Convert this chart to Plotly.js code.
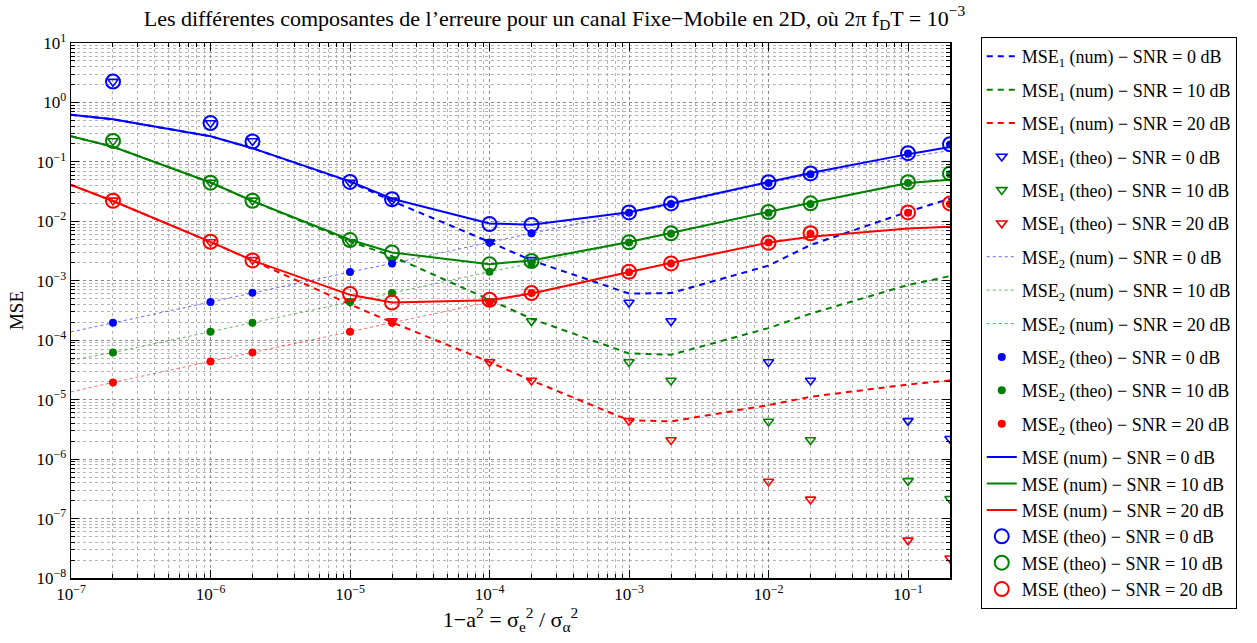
<!DOCTYPE html>
<html>
<head>
<meta charset="utf-8">
<script src="https://cdn.plot.ly/plotly-3.0.1.min.js"></script>
<style>html,body{margin:0;padding:0;background:#fff;}#chart{width:1257px;height:643px;}</style>
</head>
<body>
<div id="chart"></div>
<script>
// ---- data ----
var xNum  = [1e-7, 2e-7, 1e-6, 2e-6, 1e-5, 2e-5, 1e-4, 2e-4, 1e-3, 2e-3, 1e-2, 2e-2, 1e-1, 2e-1];
var xTheo = [2e-7, 1e-6, 2e-6, 1e-5, 2e-5, 1e-4, 2e-4, 1e-3, 2e-3, 1e-2, 2e-2, 1e-1, 2e-1];
var snrLabels = ['0', '10', '20'];

var mse1Num0  = [0.62, 0.52, 0.27, 0.17, 0.046, 0.022, 0.0045, 0.0022, 0.00061, 0.00062, 0.0018, 0.004, 0.0145, 0.024];
var mse1Num10 = [0.27, 0.18, 0.045, 0.022, 0.0046, 0.0026, 0.00048, 0.00023, 6.0e-5, 5.7e-5, 1.6e-4, 2.8e-4, 8.5e-4, 1.2e-3];
var mse1Num20 = [0.041, 0.022, 0.0045, 0.0022, 0.0004, 0.0002, 4.3e-5, 2.1e-5, 4.5e-6, 4.3e-6, 8.1e-6, 1.12e-5, 1.8e-5, 2.1e-5];

var mse1Theo0  = [2.24, 0.45, 0.225, 0.045, 0.0225, 0.0045, 0.00225, 0.00043, 0.00021, 4.3e-5, 2.1e-5, 4.4e-6, 2.2e-6];
var mse1Theo10 = [0.225, 0.045, 0.0225, 0.0045, 0.00225, 0.00045, 0.00021, 4.3e-5, 2.1e-5, 4.3e-6, 2.1e-6, 4.3e-7, 2.15e-7];
var mse1Theo20 = [0.0225, 0.0045, 0.00225, 0.00045, 0.00021, 4.3e-5, 2.1e-5, 4.4e-6, 2.1e-6, 4.2e-7, 2.1e-7, 4.3e-8, 2.15e-8];

var mse2Num0  = [1.38e-4, 1.96e-4, 4.4e-4, 6.3e-4, 1.4e-3, 1.96e-3, 4.4e-3, 6.3e-3, 0.0136, 0.019, 0.044, 0.061, 0.12, 0.155];
var mse2Num10 = [4.6e-5, 6.2e-5, 1.39e-4, 1.96e-4, 4.4e-4, 6.2e-4, 1.42e-3, 1.96e-3, 4.4e-3, 6.3e-3, 0.0143, 0.020, 0.043, 0.050];
var mse2Num20 = [1.35e-5, 1.95e-5, 4.4e-5, 6.2e-5, 1.39e-4, 1.96e-4, 4.4e-4, 6.0e-4, 1.39e-3, 1.96e-3, 4.4e-3, 5.5e-3, 0.0076, 0.0081];

var mse2Theo0  = [1.96e-4, 4.4e-4, 6.3e-4, 1.4e-3, 1.96e-3, 4.4e-3, 6.3e-3, 0.014, 0.0196, 0.044, 0.062, 0.139, 0.196];
var mse2Theo10 = [6.2e-5, 1.39e-4, 1.96e-4, 4.4e-4, 6.2e-4, 1.42e-3, 1.96e-3, 4.4e-3, 6.2e-3, 0.0139, 0.0196, 0.044, 0.062];
var mse2Theo20 = [1.95e-5, 4.4e-5, 6.2e-5, 1.39e-4, 1.96e-4, 4.4e-4, 6.2e-4, 1.39e-3, 1.96e-3, 4.4e-3, 6.2e-3, 0.0139, 0.0196];

var mseNum0  = [0.62, 0.52, 0.27, 0.17, 0.047, 0.024, 0.0092, 0.0088, 0.0142, 0.020, 0.046, 0.065, 0.135, 0.178];
var mseNum10 = [0.27, 0.18, 0.045, 0.022, 0.0049, 0.0030, 0.0019, 0.0022, 0.0045, 0.0064, 0.0145, 0.0205, 0.044, 0.050];
var mseNum20 = [0.041, 0.022, 0.0045, 0.0022, 0.00058, 0.00043, 0.00047, 0.00061, 0.0014, 0.0020, 0.0044, 0.0055, 0.0076, 0.0081];

var mseTheo0  = [2.24, 0.45, 0.22, 0.046, 0.0235, 0.009, 0.0087, 0.0141, 0.020, 0.0454, 0.064, 0.14, 0.198];
var mseTheo10 = [0.225, 0.0447, 0.0222, 0.00484, 0.0030, 0.00189, 0.00215, 0.00443, 0.0063, 0.01435, 0.0201, 0.0454, 0.064];
var mseTheo20 = [0.0222, 0.00454, 0.0022, 0.0006, 0.00043, 0.00048, 0.00062, 0.00142, 0.00196, 0.00436, 0.0063, 0.0141, 0.020];

var xTickVals = [1e-7, 1e-6, 1e-5, 1e-4, 1e-3, 1e-2, 1e-1];
var xTickText = ['10<sup>−7</sup>', '10<sup>−6</sup>', '10<sup>−5</sup>', '10<sup>−4</sup>', '10<sup>−3</sup>', '10<sup>−2</sup>', '10<sup>−1</sup>'];
var yTickVals = [1e-8, 1e-7, 1e-6, 1e-5, 1e-4, 1e-3, 1e-2, 1e-1, 1, 10];
var yTickText = ['10<sup>−8</sup>', '10<sup>−7</sup>', '10<sup>−6</sup>', '10<sup>−5</sup>', '10<sup>−4</sup>', '10<sup>−3</sup>', '10<sup>−2</sup>', '10<sup>−1</sup>', '10<sup>0</sup>', '10<sup>1</sup>'];

// ---- styling ----
var colors = ['#0000ff', '#008000', '#ff0000'];
var FONT = 'Liberation Serif, Times New Roman, serif';

function minorVals(lo, hi) {
  var v = [];
  for (var e = lo; e < hi; e++) {
    for (var m = 2; m <= 9; m++) v.push(m * Math.pow(10, e));
  }
  return v;
}

var traces = [];
var mse1Num = [mse1Num0, mse1Num10, mse1Num20];
var mse1Theo = [mse1Theo0, mse1Theo10, mse1Theo20];
var mse2Num = [mse2Num0, mse2Num10, mse2Num20];
var mse2Theo = [mse2Theo0, mse2Theo10, mse2Theo20];
var mseNum = [mseNum0, mseNum10, mseNum20];
var mseTheo = [mseTheo0, mseTheo10, mseTheo20];

for (var i = 0; i < 3; i++) traces.push({
  x: xNum, y: mse1Num[i], mode: 'lines', type: 'scatter', legendgroup: 'a' + i,
  line: {color: colors[i], width: 2, dash: '6px,5px'},
  name: 'MSE<sub>1</sub> (num) − SNR = ' + snrLabels[i] + ' dB'
});
for (var i = 0; i < 3; i++) traces.push({
  x: xTheo, y: mse1Theo[i], mode: 'markers', type: 'scatter', legendgroup: 'b' + i,
  marker: {color: colors[i], symbol: 'triangle-down-open', size: 9, line: {width: 1.6, color: colors[i]}},
  name: 'MSE<sub>1</sub> (theo) − SNR = ' + snrLabels[i] + ' dB'
});
for (var i = 0; i < 3; i++) traces.push({
  x: xNum, y: mse2Num[i], mode: 'lines', type: 'scatter', legendgroup: 'c' + i,
  line: {color: colors[i], width: 1, dash: 'dot'}, opacity: 0.6,
  name: 'MSE<sub>2</sub> (num) − SNR = ' + snrLabels[i] + ' dB'
});
for (var i = 0; i < 3; i++) traces.push({
  x: xTheo, y: mse2Theo[i], mode: 'markers', type: 'scatter', legendgroup: 'd' + i,
  marker: {color: colors[i], symbol: 'circle', size: 8},
  name: 'MSE<sub>2</sub> (theo) − SNR = ' + snrLabels[i] + ' dB'
});
for (var i = 0; i < 3; i++) traces.push({
  x: xNum, y: mseNum[i], mode: 'lines', type: 'scatter', legendgroup: 'total',
  line: {color: colors[i], width: 2},
  name: 'MSE (num) − SNR = ' + snrLabels[i] + ' dB'
});
for (var i = 0; i < 3; i++) traces.push({
  x: xTheo, y: mseTheo[i], mode: 'markers', type: 'scatter', legendgroup: 'total',
  marker: {color: colors[i], symbol: 'circle-open', size: 14, line: {width: 2, color: colors[i]}},
  name: 'MSE (theo) − SNR = ' + snrLabels[i] + ' dB'
});

var axisCommon = {
  type: 'log', showline: true, linecolor: '#000', linewidth: 1.5, mirror: 'allticks',
  ticks: 'inside', ticklen: 8, tickcolor: '#000', tickwidth: 1,
  tickmode: 'array', showgrid: true, gridcolor: '#8a8a8a', griddash: 'dot', gridwidth: 1,
  zeroline: false, tickfont: {family: FONT, size: 17, color: '#000'}
};

var layout = {
  width: 1257, height: 643,
  margin: {l: 71, r: 307, t: 43, b: 65},
  paper_bgcolor: '#fff', plot_bgcolor: '#fff',
  font: {family: FONT, color: '#000'},
  title: {
    text: 'Les différentes composantes de l’erreure pour un canal Fixe−Mobile en 2D, où 2π f<sub>D</sub>T = 10<sup>−3</sup>',
    font: {family: FONT, size: 22, color: '#000'},
    xref: 'paper', x: 0.55, xanchor: 'center', yref: 'container', y: 0.972, yanchor: 'middle'
  },
  xaxis: Object.assign({}, axisCommon, {
    range: [-7, Math.log10(0.2)],
    tickvals: xTickVals, ticktext: xTickText,
    minor: {tickmode: 'array', tickvals: minorVals(-7, 0), ticks: 'inside', ticklen: 4, tickcolor: '#000',
            showgrid: true, gridcolor: '#b4b4b4', griddash: 'dot', gridwidth: 1},
    title: {text: '1−a<sup>2</sup> = σ<sub>e</sub><sup>2</sup> / σ<sub>α</sub><sup>2</sup>', font: {family: FONT, size: 22, color: '#000'}, standoff: 4}
  }),
  yaxis: Object.assign({}, axisCommon, {
    range: [-8, 1],
    tickvals: yTickVals, ticktext: yTickText,
    minor: {tickmode: 'array', tickvals: minorVals(-8, 1), ticks: 'inside', ticklen: 4, tickcolor: '#000',
            showgrid: true, gridcolor: '#b4b4b4', griddash: 'dot', gridwidth: 1},
    title: {text: 'MSE', font: {family: FONT, size: 19, color: '#000'}, standoff: 8}
  }),
  showlegend: true,
  legend: {
    x: 1.035, xanchor: 'left', y: 1.011, yanchor: 'top',
    bgcolor: '#fff', bordercolor: '#000', borderwidth: 1,
    font: {family: FONT, size: 18, color: '#000'},
    traceorder: 'grouped', tracegroupgap: 7, itemwidth: 30, maxheight: 630
  }
};

Plotly.newPlot('chart', traces, layout, {staticPlot: true, displayModeBar: false});
</script>
</body>
</html>
